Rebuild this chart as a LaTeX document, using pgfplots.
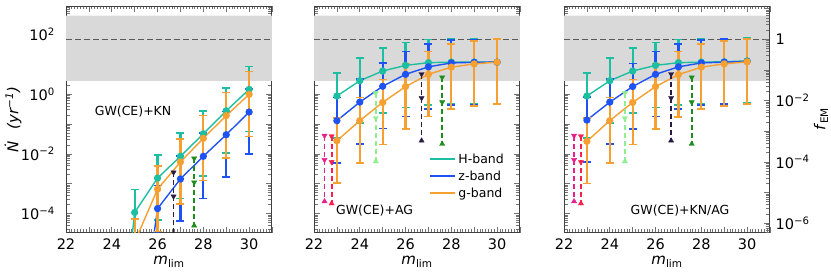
\documentclass[border=0pt]{standalone}
\usepackage{fontspec}
\setmainfont{DejaVu Sans}
\usepackage{pgfplots}
\usepackage{pgfplotstable}
\pgfplotsset{compat=1.18}

\definecolor{cH}{HTML}{1CBFA2}
\definecolor{cZ}{HTML}{1F52F2}
\definecolor{cG}{HTML}{F5A030}
\definecolor{cPink}{HTML}{E8208E}
\definecolor{cRed}{HTML}{FF1F4F}
\definecolor{cLG}{HTML}{90EE90}
\definecolor{cDP}{HTML}{2A1B45}
\definecolor{cDG}{HTML}{1E8C1E}
\definecolor{cBand}{HTML}{D9D9D9}

% x, H-band, z-band, g-band, relative error up, relative error down
\pgfplotstableread{
x H z g ep em
24 1e-11 1e-12 1e-13 4.888 0.961
25 1.10e-4 5e-10 1.12e-5 4.888 0.961
26 1.55e-3 1.48e-4 6.6e-4 4.888 0.961
27 8.3e-3 1.45e-3 5.37e-3 4.888 0.961
28 0.0468 8.3e-3 0.0331 4.888 0.961
29 0.275 0.0437 0.19 4.888 0.961
30 1.43 0.251 0.977 4.888 0.961
}\tabKN
\pgfplotstableread{
x H z g ep em
23 0.857 0.129 0.0275 4.888 0.961
24 2.79 0.537 0.129 4.888 0.961
25 5.89 1.82 0.525 4.888 0.961
26 9.12 4.57 1.78 4.888 0.961
27 11.2 8.13 4.57 4.888 0.961
28 11.7 11.0 7.94 4.888 0.961
29 11.7 11.5 10.2 4.888 0.961
30 11.7 11.7 11.7 4.888 0.961
}\tabAG
\pgfplotstableread{
x H z g ep em
23 0.857 0.135 0.0263 4.888 0.961
24 2.79 0.537 0.129 4.888 0.961
25 5.89 1.78 0.525 4.888 0.961
26 9.12 4.57 1.78 4.888 0.961
27 11.2 8.13 4.47 4.888 0.961
28 11.7 11.0 7.94 4.888 0.961
29 12.0 11.7 10.2 4.888 0.961
30 12.9 12.3 12.0 4.888 0.961
}\tabKNAG

\newcommand{\logtick}{\pgfmathtruncatemacro{\myexp}{round(\tick/ln(10))}\ifodd\myexp\relax\else10\textsuperscript{\ifnum\myexp<0 −\number\numexpr-\myexp\relax\else\myexp\fi}\fi}
\newcommand{\flogtick}{\pgfmathtruncatemacro{\myexp}{round(\tick/ln(10))}\ifnum\myexp=0 1\else\ifodd\myexp\relax\else10\textsuperscript{\ifnum\myexp<0 −\number\numexpr-\myexp\relax\else\myexp\fi}\fi\fi}

\newcommand{\ulimit}[5]{%
 \addplot[#1, line width=1.8pt, dash pattern=on 5pt off 3pt, forget plot] coordinates {(#2,#3) (#2,#5)};
 \addplot[#1, only marks, mark=triangle*, mark size=3pt, mark options={solid, rotate=180, fill=#1, draw=#1}, forget plot] coordinates {(#2,#3) (#2,#4)};
 \addplot[#1, only marks, mark=triangle*, mark size=3pt, mark options={solid, fill=#1, draw=#1}, forget plot] coordinates {(#2,#5)};
}

\newcommand{\oneseries}[3]{%
 \addplot[color=#1, line width=1.4pt, mark=*, mark size=2.9pt,
   mark options={solid, fill=#1, draw=#1}, forget plot,
   error bars/.cd, y dir=both, y explicit relative,
   error bar style={line width=2.2pt, #1},
   error mark options={rotate=90, mark size=4pt, line width=1.6pt, #1}]
   table[x=x, y=#2, y error plus=ep, y error minus=em]{#3};
}

\newcommand{\bandline}{%
 \addplot[fill=cBand, draw=none, forget plot] coordinates {(21,2.74) (21,419) (32,419) (32,2.74) (21,2.74)};
 \addplot[black!65, line width=1.5pt, dash pattern=on 6pt off 3pt, forget plot] coordinates {(22,68) (31,68)};
}

\begin{document}
\begin{tikzpicture}
\useasboundingbox (0,0) rectangle (831pt,274pt);

% Panel 1: GW(CE)+KN
\begin{axis}[at={(66pt,41.5pt)}, anchor=south west,
  scale only axis, width=206pt, height=226.5pt,
  xmin=22, xmax=31, ymode=log, ymin=2.35e-5, ymax=880,
  xtick={22,23,24,25,26,27,28,29,30,31}, xticklabels={22,,24,,26,,28,,30,},
  minor x tick num=7,
  ytick={1e-5,1e-4,1e-3,1e-2,1e-1,1,10,100,1000},
  tick align=inside, major tick length=6pt, minor tick length=3.5pt,
  axis line style={black!75, line width=1pt},
  tick style={black!55, line width=0.7pt},
  xticklabel style={anchor=base, yshift=-16.5pt, inner sep=0pt, font=\fontsize{14.5}{17}\selectfont},
  yticklabel style={anchor=east, inner sep=0pt, xshift=-11pt, font=\fontsize{14.5}{17}\selectfont},
  xlabel={\textit{m}\textsubscript{lim}},
  xlabel style={at={(axis description cs:0.5,-0.140)}, anchor=base, font=\fontsize{15}{18}\selectfont},
  yticklabel={\logtick},
  ylabel={\textit{Ṅ}\hspace{12pt}\textit{(yr\textsuperscript{−1})}},
  ylabel style={at={(axis description cs:-0.257,0.5)}, anchor=center, font=\fontsize{15}{18}\selectfont}]
\bandline
\oneseries{cH}{H}{\tabKN}
\oneseries{cZ}{z}{\tabKN}
\oneseries{cG}{g}{\tabKN}
\ulimit{cDP}{26.7}{2.4e-3}{3.8e-4}{1.4e-5}
\ulimit{cDG}{27.6}{7.08e-3}{1.12e-3}{3.98e-5}
\node[font=\fontsize{12.5}{15}\selectfont] at (axis cs:24.93,0.25) {GW(CE)+KN};
\end{axis}

% Panel 2: GW(CE)+AG
\begin{axis}[at={(314pt,41.5pt)}, anchor=south west,
  scale only axis, width=206pt, height=226.5pt,
  xmin=22, xmax=31, ymode=log, ymin=2.35e-5, ymax=880,
  xtick={22,23,24,25,26,27,28,29,30,31}, xticklabels={22,,24,,26,,28,,30,},
  minor x tick num=7,
  ytick={1e-5,1e-4,1e-3,1e-2,1e-1,1,10,100,1000}, yticklabels={},
  tick align=inside, major tick length=6pt, minor tick length=3.5pt,
  axis line style={black!75, line width=1pt},
  tick style={black!55, line width=0.7pt},
  xticklabel style={anchor=base, yshift=-16.5pt, inner sep=0pt, font=\fontsize{14.5}{17}\selectfont},
  xlabel={\textit{m}\textsubscript{lim}},
  xlabel style={at={(axis description cs:0.5,-0.140)}, anchor=base, font=\fontsize{15}{18}\selectfont},
  legend image code/.code={\draw[#1] (0pt,0pt) -- (25pt,0pt);},
  legend style={draw=none, fill=none, at={(axis description cs:0.545,0.366)}, anchor=north west,
    font=\fontsize{12.5}{15}\selectfont, row sep=2pt},
  legend cell align=left]
\addlegendimage{cH, line width=2pt}\addlegendentry{H-band}
\addlegendimage{cZ, line width=2pt}\addlegendentry{z-band}
\addlegendimage{cG, line width=2pt}\addlegendentry{g-band}
\bandline
\oneseries{cH}{H}{\tabAG}
\oneseries{cZ}{z}{\tabAG}
\oneseries{cG}{g}{\tabAG}
\ulimit{cPink}{22.46}{0.0407}{6.3e-3}{2.57e-4}
\ulimit{cRed}{22.77}{0.0389}{5.37e-3}{2.19e-4}
\ulimit{cLG}{24.7}{1.07}{0.158}{5.62e-3}
\ulimit{cDP}{26.7}{4.68}{0.741}{0.0275}
\ulimit{cDG}{27.6}{3.63}{0.537}{0.0214}
\node[font=\fontsize{12.5}{15}\selectfont] at (axis cs:24.65,1.3e-4) {GW(CE)+AG};
\end{axis}

% Panel 3: GW(CE)+KN/AG
\begin{axis}[at={(564pt,41.5pt)}, anchor=south west,
  scale only axis, width=206pt, height=226.5pt,
  xmin=22, xmax=31, ymode=log, ymin=2.35e-5, ymax=880,
  xtick={22,23,24,25,26,27,28,29,30,31}, xticklabels={22,,24,,26,,28,,30,},
  minor x tick num=7,
  ytick={1e-5,1e-4,1e-3,1e-2,1e-1,1,10,100,1000}, yticklabels={}, ytick pos=left,
  tick align=inside, major tick length=6pt, minor tick length=3.5pt,
  axis line style={black!75, line width=1pt},
  tick style={black!55, line width=0.7pt},
  xticklabel style={anchor=base, yshift=-16.5pt, inner sep=0pt, font=\fontsize{14.5}{17}\selectfont},
  xlabel={\textit{m}\textsubscript{lim}},
  xlabel style={at={(axis description cs:0.5,-0.140)}, anchor=base, font=\fontsize{15}{18}\selectfont}]
\bandline
\oneseries{cH}{H}{\tabKNAG}
\oneseries{cZ}{z}{\tabKNAG}
\oneseries{cG}{g}{\tabKNAG}
\ulimit{cPink}{22.44}{0.0407}{6.3e-3}{2.57e-4}
\ulimit{cRed}{22.74}{0.0389}{5.37e-3}{2.19e-4}
\ulimit{cLG}{24.66}{1.07}{0.158}{5.62e-3}
\ulimit{cDP}{26.68}{4.68}{0.741}{0.0275}
\ulimit{cDG}{27.58}{3.63}{0.537}{0.0214}
\node[font=\fontsize{12.5}{15}\selectfont] at (axis cs:27.07,1.3e-4) {GW(CE)+KN/AG};
\end{axis}

% Right axis: f_EM
\begin{axis}[at={(564pt,41.5pt)}, anchor=south west,
  scale only axis, width=206pt, height=226.5pt,
  xmin=22, xmax=31, hide x axis, axis y line*=right, ymode=log, ymin=5.0e-7, ymax=12.2,
  ytick={1e-7,1e-6,1e-5,1e-4,1e-3,1e-2,1e-1,1,10,100}, yticklabel={\flogtick},
  tick align=inside, major tick length=6pt, minor tick length=3.5pt,
  tick style={black!55, line width=0.7pt}, axis line style={black!75, line width=1pt},
  yticklabel style={anchor=west, inner sep=0pt, xshift=5.5pt, font=\fontsize{14.5}{17}\selectfont},
  ylabel={\textit{f}\textsubscript{EM}},
  ylabel style={at={(axis description cs:1.248,0.5)}, anchor=center, font=\fontsize{15}{18}\selectfont}]
\addplot[draw=none, forget plot] coordinates {(22,1)};
\end{axis}
\end{tikzpicture}
\end{document}
